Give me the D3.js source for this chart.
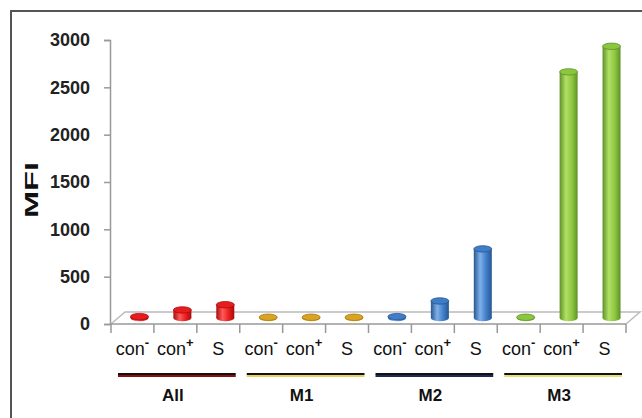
<!DOCTYPE html>
<html>
<head>
<meta charset="utf-8">
<script src="https://cdn.jsdelivr.net/npm/d3@7"></script>
<style>
  body { margin: 0; background: #fff; }
  svg text { font-family: "Liberation Sans", Arial, sans-serif; }
</style>
</head>
<body>
<svg id="chart" width="642" height="418"></svg>
<script>
// data
const groups = ['All', 'M1', 'M2', 'M3'];
const categories = ['con-', 'con+', 'S'];
const allValues = [15, 85, 140];
const m1Values = [8, 8, 8];
const m2Values = [15, 180, 730];
const m3Values = [8, 2600, 2870];
const yTicks = [0, 500, 1000, 1500, 2000, 2500, 3000];
const yLabel = 'MFI';

const seriesValues = [allValues, m1Values, m2Values, m3Values];
const palette = [
  { light: '#ff5a5a', mid: '#e81c1c', dark: '#a80c0c', line: '#8a1010' },
  { light: '#f0c450', mid: '#d9a423', dark: '#a57a10', line: '#e8d060' },
  { light: '#7fb0ea', mid: '#3f7dc8', dark: '#26578f', line: '#1c2a55' },
  { light: '#b2e066', mid: '#8cc63f', dark: '#5f9028', line: '#e6e070' }
];

const rows = [];
groups.forEach((g, gi) => {
  categories.forEach((c, ci) => {
    rows.push({ key: g + '-' + c, group: g, gi, cat: c, value: seriesValues[gi][ci] });
  });
});

const svg = d3.select('#chart');

// frame
svg.append('rect')
  .attr('x', 11).attr('y', 11)
  .attr('width', 640).attr('height', 420)
  .attr('fill', 'none')
  .attr('stroke', '#555')
  .attr('stroke-width', 2);

const x = d3.scaleBand()
  .domain(rows.map(d => d.key))
  .range([111, 626])
  .padding(0);

const y = d3.scaleLinear()
  .domain([0, 3000])
  .range([324, 40]);

const depthX = 14, depthY = 12;
const x0 = x.range()[0], x1 = x.range()[1], y0 = y(0);

// floor
svg.append('path')
  .attr('d', `M${x0},${y0} L${x0 + depthX},${y0 - depthY} L${x1 + depthX},${y0 - depthY} L${x1},${y0}`)
  .attr('fill', 'none')
  .attr('stroke', '#bbb')
  .attr('stroke-width', 1.5);
svg.append('line')
  .attr('x1', x0).attr('x2', x1)
  .attr('y1', y0).attr('y2', y0)
  .attr('stroke', '#999')
  .attr('stroke-width', 1.5);

// category ticks
const bounds = rows.map(d => x(d.key)).concat([x1]);
svg.selectAll('.ctick')
  .data(bounds)
  .enter().append('line')
  .attr('x1', d => d).attr('x2', d => d)
  .attr('y1', y0).attr('y2', y0 + 9)
  .attr('stroke', '#999')
  .attr('stroke-width', 1.5);

// y axis
const yAxis = svg.append('g')
  .attr('transform', `translate(${x0 - 1},0)`)
  .call(d3.axisLeft(y).tickValues(yTicks).tickSize(6).tickPadding(14).tickFormat(d3.format('d')));
yAxis.select('.domain').attr('stroke', '#999').attr('stroke-width', 1.5);
yAxis.selectAll('.tick line').attr('stroke', '#999').attr('stroke-width', 1.5);
yAxis.selectAll('.tick text')
  .attr('fill', '#222')
  .style('font-size', '18px')
  .style('font-weight', 'bold')
  .style('font-family', '"Liberation Sans", Arial, sans-serif');

// y label
svg.append('text')
  .attr('transform', 'translate(38,190) rotate(-90)')
  .attr('text-anchor', 'middle')
  .attr('textLength', 56)
  .attr('lengthAdjust', 'spacingAndGlyphs')
  .style('font-size', '19px')
  .style('font-weight', 'bold')
  .attr('fill', '#111')
  .text(yLabel);

// gradients
const defs = svg.append('defs');
palette.forEach((p, i) => {
  const g = defs.append('linearGradient')
    .attr('id', 'cyl' + i)
    .attr('x1', '0%').attr('x2', '100%').attr('y1', '0%').attr('y2', '0%');
  g.append('stop').attr('offset', '0%').attr('stop-color', p.dark);
  g.append('stop').attr('offset', '35%').attr('stop-color', p.light);
  g.append('stop').attr('offset', '70%').attr('stop-color', p.mid);
  g.append('stop').attr('offset', '100%').attr('stop-color', p.dark);
});

// cylinders
const bw = 18, ry = 3.2, offX = 7, offY = 6;
const bars = svg.selectAll('.bar')
  .data(rows)
  .enter().append('g')
  .attr('class', 'bar');

bars.each(function(d) {
  const g = d3.select(this);
  const cx = x(d.key) + x.bandwidth() / 2 + offX;
  const base = y(0) - offY;
  const top = y(d.value) - offY;
  const p = palette[d.gi];
  g.append('ellipse')
    .attr('cx', cx).attr('cy', base)
    .attr('rx', bw / 2).attr('ry', ry)
    .attr('fill', `url(#cyl${d.gi})`);
  g.append('rect')
    .attr('x', cx - bw / 2).attr('y', top)
    .attr('width', bw).attr('height', Math.max(0, base - top))
    .attr('fill', `url(#cyl${d.gi})`);
  g.append('ellipse')
    .attr('cx', cx).attr('cy', top)
    .attr('rx', bw / 2).attr('ry', ry)
    .attr('fill', p.mid)
    .attr('stroke', p.dark)
    .attr('stroke-width', 0.8);
});

// category labels
const catText = svg.selectAll('.cat')
  .data(rows)
  .enter().append('text')
  .attr('class', 'cat')
  .attr('x', d => x(d.key) + x.bandwidth() / 2)
  .attr('y', 355)
  .attr('text-anchor', 'middle')
  .attr('fill', '#111')
  .style('font-size', '18px');
catText.each(function(d) {
  const t = d3.select(this);
  if (d.cat === 'S') {
    t.append('tspan').text('S');
  } else {
    t.append('tspan').text('con');
    t.append('tspan')
      .attr('dy', -8)
      .style('font-size', '13px')
      .style('font-weight', 'bold')
      .text(d.cat.slice(3) === '-' ? '-' : '+');
  }
});

// group underlines and labels
groups.forEach((g, gi) => {
  const gx0 = x(g + '-' + categories[0]) + 7;
  const gx1 = x(g + '-' + categories[categories.length - 1]) + x.bandwidth() - 4;
  svg.append('line')
    .attr('x1', gx0).attr('x2', gx1)
    .attr('y1', 376).attr('y2', 376)
    .attr('stroke', palette[gi].line)
    .attr('stroke-width', 2);
  svg.append('line')
    .attr('x1', gx0).attr('x2', gx1)
    .attr('y1', 374).attr('y2', 374)
    .attr('stroke', '#111')
    .attr('stroke-width', 2.2);
  svg.append('text')
    .attr('x', (gx0 + gx1) / 2 - 4)
    .attr('y', 401)
    .attr('text-anchor', 'middle')
    .attr('fill', '#111')
    .style('font-size', '17px')
    .style('font-weight', 'bold')
    .text(g);
});
</script>
</body>
</html>
